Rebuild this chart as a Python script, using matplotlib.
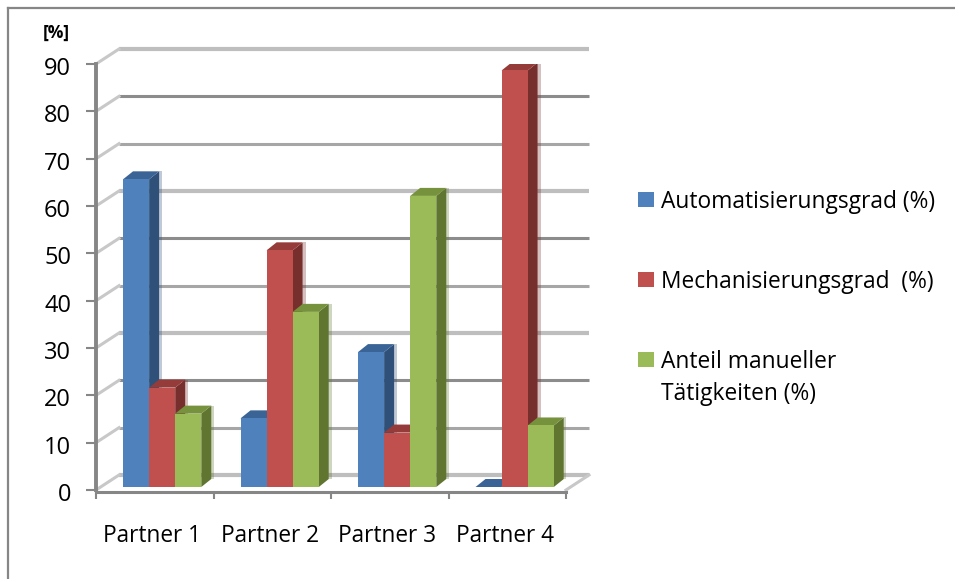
"""Partner comparison: 3D-look clustered columns drawn on plain 2D axes."""

import matplotlib

matplotlib.use("Agg")
import matplotlib.pyplot as plt
from matplotlib.lines import Line2D
from matplotlib.patches import Polygon, Rectangle
from matplotlib.transforms import ScaledTranslation

partners = ["Partner 1", "Partner 2", "Partner 3", "Partner 4"]
automatisierung = [65, 14.5, 28.5, 0]
mechanisierung = [21, 50, 11.5, 88]
manuell = [15.5, 37, 61.5, 13]
y_ticks = [0, 10, 20, 30, 40, 50, 60, 70, 80, 90]
legend_labels = [
    "Automatisierungsgrad (%)",
    "Mechanisierungsgrad  (%)",
    "Anteil manueller\nTätigkeiten (%)",
]

FRONT = "#4F81BD", "#C0504D", "#9BBB59"
TOP = "#3A6496", "#953B39", "#76923C"
SIDE = "#2F5078", "#772F2D", "#5F7530"
# the gridlines come out unevenly in the source image, repeating every third line
GRID = [("#BEBEBE", 3.0), ("#8C8C8C", 2.2), ("#A6A6A6", 2.2)]

W, H = 955, 579
plt.rcParams["font.family"] = ["Open Sans", "DejaVu Sans"]

fig = plt.figure(figsize=(W / 100, H / 100), dpi=100)
# frame only shows on top and left, the picture is cut off at the other two sides
fig.add_artist(Line2D([8 / W, 1], [1 - 8 / H] * 2, transform=fig.transFigure, color="#868686", lw=1.6))
fig.add_artist(Line2D([8 / W] * 2, [0, 1 - 8 / H], transform=fig.transFigure, color="#868686", lw=1.6))

# axes box: the front plane, pixel positions
left, right, top, bottom = 96, 566, 64, 490
ax = fig.add_axes([left / W, 1 - bottom / H, (right - left) / W, (bottom - top) / H])
ax.set_xlim(0, 4)
ax.set_ylim(0, 90)
ax.patch.set_alpha(0)

px_x = 4 / (right - left)
px_y = 90 / (bottom - top)
back_dx, back_dy = 23 * px_x, 15 * px_y  # depth of the wall
bar_dx, bar_dy = 10 * px_x, 8 * px_y  # depth of a bar
lift = 3 * px_y

# back wall gridlines and slanted side lines
for n, v in enumerate(reversed(y_ticks)):
    c, lw = GRID[n % 3]
    ax.plot([back_dx, 4 + back_dx], [v + back_dy] * 2, color=c, lw=lw, clip_on=False,
            solid_capstyle="butt", zorder=1)
    ax.plot([0, back_dx], [v, v + back_dy], color="#C8C8C8", lw=2.2, clip_on=False, zorder=1)
ax.plot([4, 4 + back_dx], [0, back_dy], color="#C8C8C8", lw=2.2, clip_on=False, zorder=1)

# columns
bar_w = 0.222
start = 0.23
for s, values in enumerate([automatisierung, mechanisierung, manuell]):
    for i, v in enumerate(values):
        x0 = i + start + s * bar_w
        x1 = x0 + bar_w
        y0, y1 = lift, v + lift
        z = 3 + i * 3 + s
        if v > 0:
            ax.add_patch(Rectangle((x0, y0), bar_w, v, fc=FRONT[s], ec="none", zorder=z + 0.2))
            ax.add_patch(Polygon([(x1, y0), (x1 + bar_dx, y0 + bar_dy), (x1 + bar_dx, y1 + bar_dy), (x1, y1)],
                                 fc=SIDE[s], ec="none", zorder=z))
            # pale shadow along the side face
            ax.add_patch(Rectangle((x1 + bar_dx, y0 + bar_dy), 3 * px_x, v, fc=SIDE[s], alpha=0.3,
                                   ec="none", zorder=z))
        ax.add_patch(Polygon([(x0, y1), (x0 + bar_dx, y1 + bar_dy), (x1 + bar_dx, y1 + bar_dy), (x1, y1)],
                             fc=TOP[s], ec="none", zorder=z))

for side in ("top", "right"):
    ax.spines[side].set_visible(False)
ax.spines["left"].set_color("#868686")
ax.spines["left"].set_linewidth(2.8)
ax.spines["bottom"].set_color("#868686")
ax.spines["bottom"].set_linewidth(2.2)
ax.spines["bottom"].set_position(("outward", 1.5))
ax.set_yticks(y_ticks)
ax.set_xticks(range(5))
ax.set_xticklabels([])
ax.tick_params(axis="y", color="#868686", width=1.5, length=7, labelsize=17, pad=11, labelcolor="black")
ax.tick_params(axis="x", color="#868686", width=1.5, length=5)
nudge = ScaledTranslation(0, -2 / 100, fig.dpi_scale_trans)
for label in ax.get_yticklabels():
    label.set_transform(label.get_transform() + nudge)

for i, name in enumerate(partners):
    ax.text(i + 0.48, -11, name, ha="center", va="baseline", fontsize=16.3, clip_on=False)
ax.text(-0.22, 96.5, "[%]", ha="right", va="center", fontsize=12.5, fontweight="bold", clip_on=False)

# legend
legend_y = [208, 288, 368]
for color, label, y in zip(FRONT, legend_labels, legend_y):
    fig.add_artist(Rectangle((638 / W, 1 - (y - 1) / H), 16 / W, 15 / H, transform=fig.transFigure,
                             fc=color, ec="none"))
    for j, line in enumerate(label.split("\n")):
        fig.text(661 / W, 1 - (y + 32 * j) / H, line, fontsize=16.4, va="baseline", ha="left")

fig.savefig("out.png", dpi=100)
